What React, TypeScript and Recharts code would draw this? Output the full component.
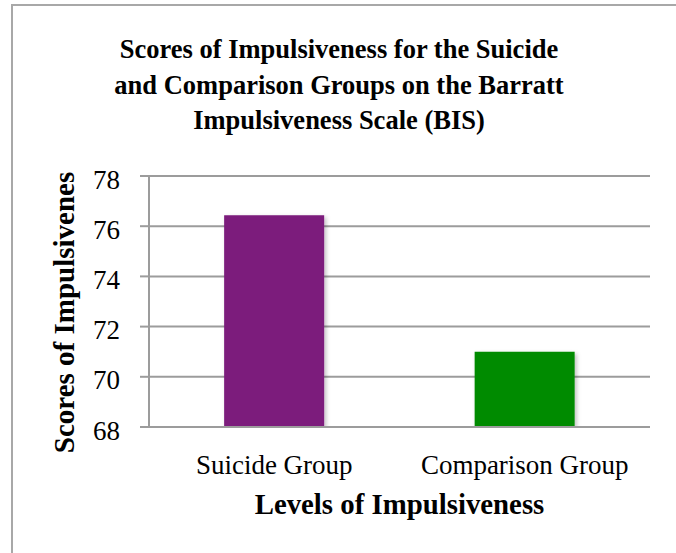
import React from 'react';
import { BarChart, Bar, XAxis, YAxis, CartesianGrid, Cell, Label } from 'recharts';

const categories = ['Suicide Group', 'Comparison Group'];
const scores = [76.44, 71.0];
const barColors = ['#7B1A7B', '#008B00'];
const yTicks = [68, 70, 72, 74, 76, 78];
const edgeTicks = [0, 1, 2];
const titleLines = [
  'Scores of Impulsiveness for the Suicide',
  'and Comparison Groups on the Barratt',
  'Impulsiveness Scale (BIS)',
];
const xTitle = 'Levels of Impulsiveness';
const yTitle = 'Scores of Impulsivenes';

const data = categories.map((name, i) => ({ name, value: scores[i] }));

const FONT = '"Liberation Serif", serif';
const GRID = '#9c9c9c';

export default function App() {
  return (
    <div style={{ position: 'absolute', left: 0, top: 0, width: 676, height: 553, background: '#fff', overflow: 'hidden' }}>
      <div style={{ position: 'absolute', left: 11, top: 4, width: 700, height: 600, borderLeft: '2px solid #a8a8a8', borderTop: '2px solid #a8a8a8' }} />
      <div style={{ position: 'absolute', left: 0, top: 32, width: 678, textAlign: 'center', fontFamily: FONT, fontWeight: 700, fontSize: 26.5, lineHeight: '35.5px', color: '#000' }}>
        {titleLines.map((l) => (
          <div key={l}>{l}</div>
        ))}
      </div>
      <div style={{ position: 'absolute', left: 0, top: 0 }}>
        <BarChart width={676} height={553} data={data} margin={{ top: 176, right: 26, bottom: 36, left: 89 }} barCategoryGap="30%">
          <defs>
            <filter id="barShadow" x="-20%" y="-20%" width="140%" height="140%">
              <feDropShadow dx="2" dy="2" stdDeviation="2" floodColor="#000" floodOpacity="0.25" />
            </filter>
          </defs>
          <CartesianGrid horizontal vertical={false} stroke={GRID} strokeWidth={2} />
          <XAxis
            xAxisId="edges"
            type="number"
            domain={[0, 2]}
            ticks={edgeTicks}
            tick={false}
            tickLine={{ stroke: GRID, strokeWidth: 2 }}
            tickSize={8}
            axisLine={false}
            height={0}
            allowDataOverflow
          />
          <XAxis
            dataKey="name"
            tickLine={false}
            tickSize={0}
            tickMargin={28}
            axisLine={{ stroke: GRID, strokeWidth: 2 }}
            tick={{ fontFamily: FONT, fontSize: 27, fill: '#000' }}
            height={90}
          >
            <Label
              content={(props: any) => {
                const vb = props.viewBox;
                return (
                  <text x={vb.x + vb.width / 2} y={vb.y + 87} textAnchor="middle" fontFamily={FONT} fontWeight={700} fontSize={28.8} fill="#000">
                    {xTitle}
                  </text>
                );
              }}
            />
          </XAxis>
          <YAxis
            domain={[68, 78]}
            ticks={yTicks}
            width={60}
            tickSize={9}
            tickMargin={20}
            axisLine={{ stroke: GRID, strokeWidth: 2 }}
            tickLine={{ stroke: GRID, strokeWidth: 2 }}
            tick={{ fontFamily: FONT, fontSize: 27, fill: '#000', dy: 3 }}
            allowDataOverflow
          >
            <Label
              content={(props: any) => {
                const vb = props.viewBox;
                const cx = vb.x - 15;
                const cy = vb.y + vb.height / 2 + 11;
                return (
                  <text x={cx} y={cy} transform={`rotate(-90 ${cx} ${cy})`} textAnchor="middle" fontFamily={FONT} fontWeight={700} fontSize={29} fill="#000">
                    {yTitle}
                  </text>
                );
              }}
            />
          </YAxis>
          <Bar dataKey="value" isAnimationActive={false} filter="url(#barShadow)">
            {data.map((d, i) => (
              <Cell key={d.name} fill={barColors[i]} />
            ))}
          </Bar>
        </BarChart>
      </div>
    </div>
  );
}
